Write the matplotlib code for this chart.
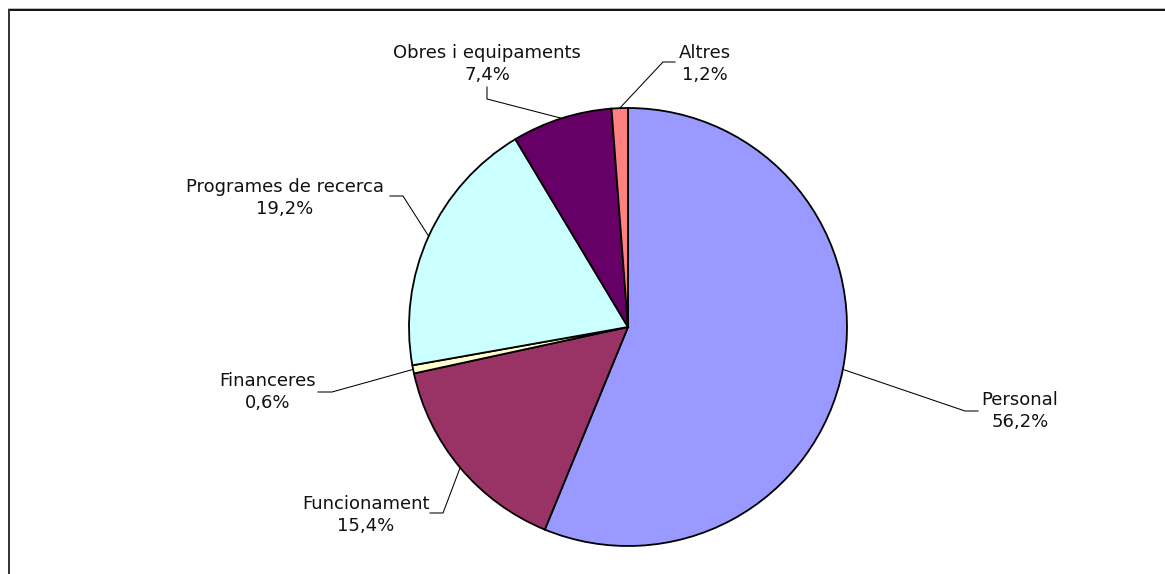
import numpy as np
import matplotlib.pyplot as plt
from matplotlib.lines import Line2D

# data
categories = ['Personal', 'Funcionament', 'Financeres', 'Programes de recerca',
              'Obres i equipaments', 'Altres']
values = [56.2, 15.4, 0.6, 19.2, 7.4, 1.2]
pct_labels = ['56,2%', '15,4%', '0,6%', '19,2%', '7,4%', '1,2%']
colors = ['#9999FF', '#993366', '#FFFFCC', '#CCFFFF', '#660066', '#FF8080']

# label layout in pixel coords (text centre, leader elbow points)
label_pos = [(1020, 411), (366, 515), (268, 392), (285, 198), (487, 64), (705, 64)]
elbows = [[(965, 411), (978, 411)],
          [(443, 513), (430, 513)],
          [(332, 392), (318, 392)],
          [(403, 196), (390, 196)],
          [(487, 99), (487, 87)],
          [(663, 62), (675, 62)]]

W, H = 1165, 574
fig = plt.figure(figsize=(W / 100, H / 100), dpi=100)
ax = fig.add_axes([0, 0, 1, 1])

# y axis points down, so start at -90 and go counterclockwise in data = clockwise on screen
wedges, _ = ax.pie(values, colors=colors, startangle=-90, counterclock=True,
                   center=(628, 327), radius=219,
                   wedgeprops=dict(edgecolor='black', linewidth=1.3))
ax.set_xlim(0, W)
ax.set_ylim(H, 0)
ax.set_aspect('equal')
ax.axis('off')

for w, name, pct, (tx, ty), elb in zip(wedges, categories, pct_labels, label_pos, elbows):
    mid = np.deg2rad((w.theta1 + w.theta2) / 2)
    x0 = w.center[0] + w.r * np.cos(mid)
    y0 = w.center[1] + w.r * np.sin(mid)
    xs = [x0] + [p[0] for p in elb]
    ys = [y0] + [p[1] for p in elb]
    ax.plot(xs, ys, color='black', lw=0.75)
    ax.text(tx, ty, name + '\n' + pct, ha='center', va='center', fontsize=13,
            linespacing=1.25, color='#111111')

# chart frame (top and left edges visible)
fig.add_artist(Line2D([8.5 / W, 1], [1 - 9.5 / H, 1 - 9.5 / H], color='#111111', lw=1.4))
fig.add_artist(Line2D([8.5 / W, 8.5 / W], [0, 1 - 9.5 / H], color='#333333', lw=1.4))
fig.add_artist(Line2D([8 / W, 1], [1 - 8 / H, 1 - 8 / H], color='#bbbbbb', lw=0.7))

fig.savefig('out.png', dpi=100)
